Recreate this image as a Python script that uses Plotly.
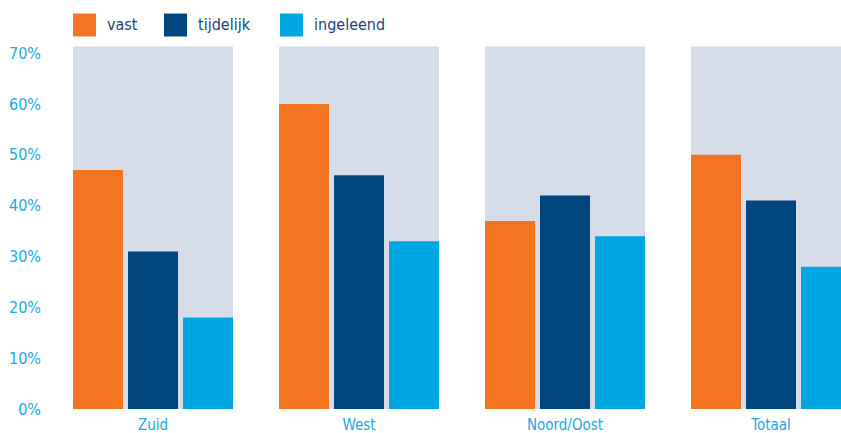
import plotly.graph_objects as go

# data
regions = ["Zuid", "West", "Noord/Oost", "Totaal"]
series = ["vast", "tijdelijk", "ingeleend"]
vast = [47, 60, 37, 50]
tijdelijk = [31, 46, 42, 41]
ingeleend = [18, 33, 34, 28]
y_ticks = [0, 10, 20, 30, 40, 50, 60, 70]
panel_top = 71.3

colors = ["#f47521", "#00457c", "#00a6e2"]
panel_color = "#d6dde9"
label_blue = "#1ba9e1"
legend_text = "#1f4274"
font_family = "DejaVu Sans Condensed, DejaVu Sans, sans-serif"

W, H = 841, 433
L, R, T, B = 50, 0, 42.5, 24
step = 206.0  # px between group centres
plot_w = W - L - R
plot_h = H - T - B
y_max = plot_h / 5.09

# bar slots inside a group (pixels relative to group centre)
bar_w = 50 / step
offsets = [-80 / step, -25 / step, 30 / step]

fig = go.Figure()

for name, vals, col, off in zip(series, [vast, tijdelijk, ingeleend], colors, offsets):
    fig.add_trace(go.Bar(
        x=list(range(len(regions))), y=vals, name=name,
        marker=dict(color=col, line=dict(width=0)),
        width=bar_w, offset=off,
        showlegend=False,
        hovertemplate=name + ": %{y}%<extra></extra>",
    ))

# grey-blue panels behind each group
for i in range(len(regions)):
    fig.add_shape(type="rect", layer="below",
                  x0=i - 80 / step, x1=i + 80 / step, y0=0, y1=panel_top,
                  fillcolor=panel_color, line=dict(width=0))

# hand-made legend (big square swatches)
def px_x(p):
    return (p - L) / plot_w

def px_y(p):
    return (H - B - p) / plot_h

legend_x = [73, 164, 280]
for name, col, lx in zip(series, colors, legend_x):
    fig.add_shape(type="rect", xref="paper", yref="paper",
                  x0=px_x(lx), x1=px_x(lx + 23), y0=px_y(36), y1=px_y(13),
                  fillcolor=col, line=dict(width=0))
    fig.add_annotation(xref="paper", yref="paper", x=px_x(lx + 32), y=px_y(23.5),
                       text=name, showarrow=False, xanchor="left", yanchor="middle",
                       font=dict(family=font_family, size=16, color=legend_text))

fig.update_layout(
    width=W, height=H,
    margin=dict(l=L, r=R, t=T, b=B),
    plot_bgcolor="white", paper_bgcolor="white",
    showlegend=False,
    font=dict(family=font_family, size=16, color=label_blue),
    xaxis=dict(range=[-0.5, -0.5 + plot_w / step], tickvals=list(range(len(regions))),
               ticktext=regions, showgrid=False, zeroline=False, showline=False,
               ticks="", ticklabelstandoff=5, tickfont=dict(size=15), fixedrange=True),
    yaxis=dict(range=[0, y_max], tickvals=y_ticks, ticktext=[f"{v}%" for v in y_ticks],
               showgrid=False, zeroline=False, showline=False, ticks="",
               ticklabelstandoff=8, fixedrange=True),
)

fig.write_html("out.html", config={"displayModeBar": False},
               post_script="document.body.style.margin='0';")
